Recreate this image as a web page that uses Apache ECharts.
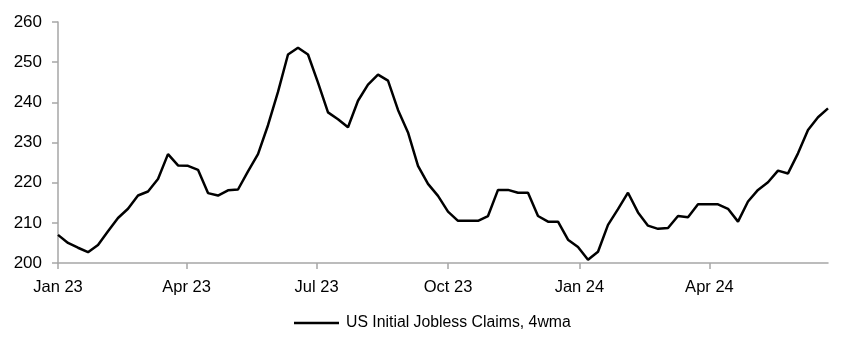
<!DOCTYPE html>
<html>
<head>
<meta charset="utf-8">
<script src="https://cdn.jsdelivr.net/npm/echarts@6/dist/echarts.min.js"></script>
<style>
html,body{margin:0;padding:0;background:#fff;}
#chart{width:852px;height:352px;}
</style>
</head>
<body>
<div id="chart"></div>
<script>
const seriesName = 'US Initial Jobless Claims, 4wma';
const weekDates = [
'2023-01-07','2023-01-14','2023-01-21','2023-01-28','2023-02-04','2023-02-11','2023-02-18','2023-02-25',
'2023-03-04','2023-03-11','2023-03-18','2023-03-25','2023-04-01','2023-04-08','2023-04-15','2023-04-22',
'2023-04-29','2023-05-06','2023-05-13','2023-05-20','2023-05-27','2023-06-03','2023-06-10','2023-06-17',
'2023-06-24','2023-07-01','2023-07-08','2023-07-15','2023-07-22','2023-07-29','2023-08-05','2023-08-12',
'2023-08-19','2023-08-26','2023-09-02','2023-09-09','2023-09-16','2023-09-23','2023-09-30','2023-10-07',
'2023-10-14','2023-10-21','2023-10-28','2023-11-04','2023-11-11','2023-11-18','2023-11-25','2023-12-02',
'2023-12-09','2023-12-16','2023-12-23','2023-12-30','2024-01-06','2024-01-13','2024-01-20','2024-01-27',
'2024-02-03','2024-02-10','2024-02-17','2024-02-24','2024-03-02','2024-03-09','2024-03-16','2024-03-23',
'2024-03-30','2024-04-06','2024-04-13','2024-04-20','2024-04-27','2024-05-04','2024-05-11','2024-05-18',
'2024-05-25','2024-06-01','2024-06-08','2024-06-15','2024-06-22','2024-06-29'
];
const claims4wma = [
207.0,205.0,203.8,202.7,204.5,207.9,211.2,213.5,
216.8,217.8,220.9,227.1,224.3,224.2,223.2,217.4,
216.8,218.1,218.3,222.8,227.1,234.3,242.6,251.9,
253.6,251.9,244.9,237.5,235.8,233.8,240.4,244.4,
246.9,245.4,238.1,232.5,224.2,219.7,216.7,212.8,
210.5,210.5,210.5,211.7,218.2,218.2,217.5,217.5,
211.7,210.3,210.3,205.8,204.0,200.8,202.8,209.5,
213.4,217.5,212.6,209.3,208.5,208.7,211.7,211.4,
214.6,214.6,214.6,213.5,210.3,215.3,218.2,220.1,
223.0,222.3,227.3,233.1,236.3,238.5
];
const tickDates = ['2023-01-07','2023-04-07','2023-07-07','2023-10-07','2024-01-07','2024-04-07'];
const tickLabels = ['Jan 23','Apr 23','Jul 23','Oct 23','Jan 24','Apr 24'];
const yMin = 200, yMax = 260, yStep = 10;

function ts(s){ const p = s.split('-').map(Number); return Date.UTC(p[0], p[1]-1, p[2]); }
const tickTs = tickDates.map(ts);
const FONT = "'Liberation Sans',Arial,sans-serif";
const AX = '#a6a6a6';

const chart = echarts.init(document.getElementById('chart'), null, {renderer:'canvas'});
chart.setOption({
  animation:false,
  backgroundColor:'#fff',
  textStyle:{fontFamily:FONT},
  grid:{left:58, right:24, top:22, bottom:89, containLabel:false},
  xAxis:{
    type:'value',
    min: ts(weekDates[0]),
    max: ts(weekDates[weekDates.length-1]),
    axisLine:{show:true, lineStyle:{color:AX, width:1.5}},
    axisTick:{show:true, length:6, lineStyle:{color:AX, width:1.5}, customValues: tickTs},
    axisLabel:{
      customValues: tickTs,
      fontFamily:FONT, fontSize:16.5, color:'#000', margin:16,
      formatter: function(v){ const i = tickTs.indexOf(v); return i>=0 ? tickLabels[i] : ''; }
    },
    splitLine:{show:false}
  },
  yAxis:{
    type:'value', min:yMin, max:yMax, interval:yStep,
    axisLine:{show:true, lineStyle:{color:AX, width:1.5}},
    axisTick:{show:true, length:6, lineStyle:{color:AX, width:1.5}},
    axisLabel:{fontFamily:FONT, fontSize:17, color:'#000', margin:16},
    splitLine:{show:false}
  },
  legend:{
    show:true, top:310, left:289,
    itemWidth:45, itemHeight:18, itemGap:8,
    icon:'path://M0,0 L45,0 L45,2.5 L0,2.5 Z',
    textStyle:{fontFamily:FONT, fontSize:15.8, color:'#000', padding:[0,0,0,2]},
    data:[{name:seriesName, itemStyle:{color:'#000'}}]
  },
  series:[{
    name:seriesName, type:'line', showSymbol:false, symbol:'none',
    lineStyle:{color:'#000', width:2.5},
    itemStyle:{color:'#000'},
    data: weekDates.map((d,i)=>[ts(d), claims4wma[i]])
  }]
});
</script>
</body>
</html>
